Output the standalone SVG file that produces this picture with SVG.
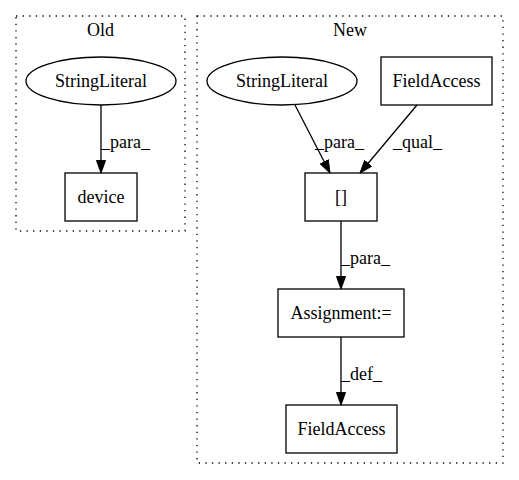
<svg xmlns="http://www.w3.org/2000/svg" width="519" height="480" viewBox="0 0 519 480">
<style>
text{font-family:"Liberation Serif","Times New Roman",serif;font-size:18px;fill:#000}
.c{text-anchor:middle}
.cl{fill:none;stroke:#000;stroke-width:1.3;stroke-dasharray:1.3,5.3}
.n{fill:none;stroke:#000;stroke-width:1.3}
.e{fill:none;stroke:#000;stroke-width:1.3}
</style>
<defs>
<marker id="ah" markerWidth="13" markerHeight="10" refX="13" refY="5" orient="auto" markerUnits="userSpaceOnUse">
<path d="M0.5,0.5 L13,5 L0.5,9.5 Z" fill="#000" stroke="#000" stroke-width="1"/>
</marker>
</defs>
<rect width="519" height="480" fill="#fff"/>
<g id="cluster_old">
<rect class="cl" x="16" y="16" width="169" height="215"/>
<text class="c" x="100.5" y="36">Old</text>
</g>
<g id="cluster_new">
<rect class="cl" x="197" y="16" width="306" height="447"/>
<text class="c" x="350" y="36">New</text>
</g>
<g id="old_stringliteral">
<ellipse class="n" cx="101" cy="81" rx="75" ry="24"/>
<text class="c" x="101" y="87">StringLiteral</text>
</g>
<g id="old_device">
<rect class="n" x="65" y="173" width="72" height="48"/>
<text class="c" x="101" y="203">device</text>
</g>
<g id="new_stringliteral">
<ellipse class="n" cx="282" cy="81" rx="75" ry="24"/>
<text class="c" x="282" y="87">StringLiteral</text>
</g>
<g id="new_fieldaccess_top">
<rect class="n" x="381" y="57" width="111" height="48"/>
<text class="c" x="436.5" y="87">FieldAccess</text>
</g>
<g id="new_index">
<rect class="n" x="305" y="173" width="72" height="48"/>
<text class="c" x="341" y="203">[]</text>
</g>
<g id="new_assignment">
<rect class="n" x="278" y="289" width="126" height="48"/>
<text class="c" x="341" y="319">Assignment:=</text>
</g>
<g id="new_fieldaccess_bottom">
<rect class="n" x="286" y="405" width="111" height="48"/>
<text class="c" x="341.5" y="435">FieldAccess</text>
</g>
<g id="connectors">
<path class="e" d="M101,105 L101,173" marker-end="url(#ah)"/>
<text x="101" y="148">_para_</text>
<path class="e" d="M295,105 L330,173" marker-end="url(#ah)"/>
<text x="315" y="148">_para_</text>
<path class="e" d="M417,105 L360,173" marker-end="url(#ah)"/>
<text x="393" y="148">_qual_</text>
<path class="e" d="M341,221 L341,289" marker-end="url(#ah)"/>
<text x="341" y="264">_para_</text>
<path class="e" d="M341,337 L341,405" marker-end="url(#ah)"/>
<text x="341" y="380">_def_</text>
</g>
</svg>
